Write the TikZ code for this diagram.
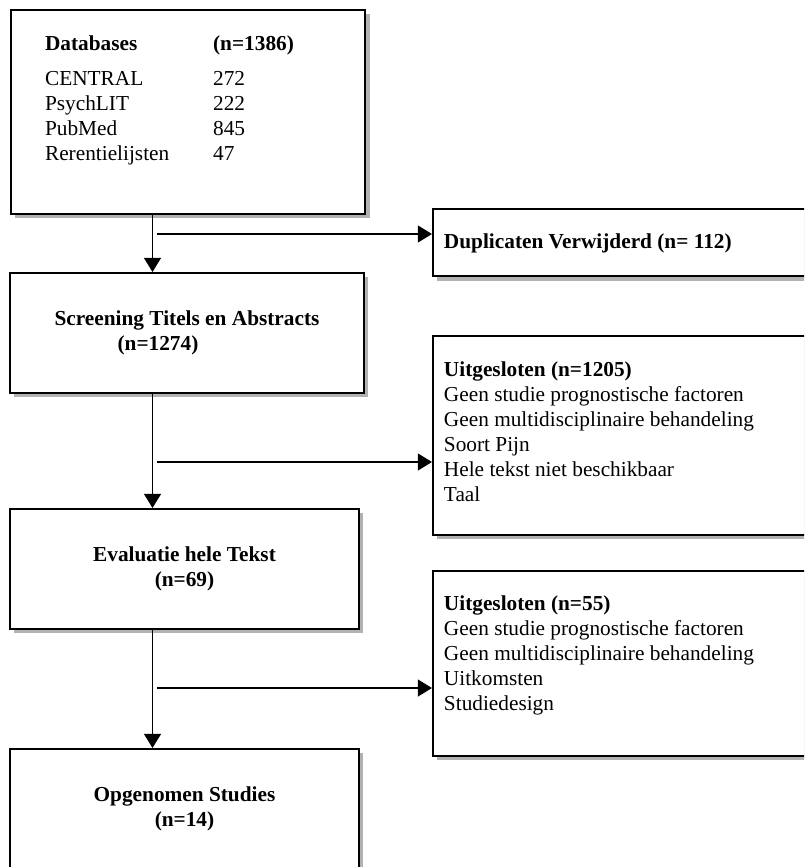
\documentclass[tikz,border=0pt]{standalone}
\usepackage{fontspec}
\setmainfont{Liberation Serif}
\usetikzlibrary{arrows.meta,positioning,calc,shadows}

\begin{document}
\begin{tikzpicture}[x=0.5634pt,y=-0.5634pt,font=\fontsize{12}{14}\selectfont,
    stage/.style={draw=black,line width=1.1pt,fill=white,inner sep=0pt,
                  align=center,minimum height=67.6pt,
                  drop shadow={shadow xshift=2.5pt,shadow yshift=-2.5pt,
                               fill=black,opacity=0.3}},
    sidebox/.style={draw=black,line width=1.1pt,fill=white,inner ysep=0pt,
                    inner xsep=6.2pt,anchor=north west,
                    drop shadow={shadow xshift=2.5pt,shadow yshift=-2.5pt,
                                 fill=black,opacity=0.3}},
    flow/.style={line width=1.05pt,-{Triangle[length=8pt,width=9.5pt]}}]

  \useasboundingbox (0,0) rectangle (804,867);
  \clip (0,0) rectangle (804,867);

  % main column
  \node[sidebox,inner xsep=19.2pt,text height=23.1pt,text depth=91.8pt]
    (db) at (10,9) {%
    \begin{tabular}[t]{@{}p{94.7pt}@{}p{66.5pt}@{}}
      \textbf{Databases} & \textbf{(n=1386)}\\[5.6pt]
      CENTRAL & 272\\
      PsychLIT & 222\\
      PubMed & 845\\
      Rerentielijsten & 47
    \end{tabular}};
  \node[stage,minimum width=199.4pt] (scr) at (187,333)
    {\textbf{Screening Titels en Abstracts}\\
     \hspace*{-32.7pt}\textbf{(n=1274)}};
  \node[stage,minimum width=196.6pt] (eval) at (184.5,569)
    {\textbf{Evaluatie hele Tekst}\\ \textbf{(n=69)}};
  \node[stage,minimum width=196.6pt] (incl) at (184.5,809)
    {\textbf{Opgenomen Studies}\\ \textbf{(n=14)}};

  % side boxes
  \node[sidebox,text height=22pt,text depth=15.8pt] (dup) at (432,208)
    {\begin{tabular}[t]{@{}p{225pt}@{}}
      \textbf{Duplicaten Verwijderd (n= 112)}
    \end{tabular}};
  \node[sidebox,text height=23.1pt,text depth=89pt] (excl1) at (432,335)
    {\begin{tabular}[t]{@{}p{225pt}@{}}
      \textbf{Uitgesloten (n=1205)}\\
      Geen studie prognostische factoren\\
      Geen multidisciplinaire behandeling\\
      Soort Pijn\\
      Hele tekst niet beschikbaar\\
      Taal
    \end{tabular}};
  \node[sidebox,text height=22.5pt,text depth=81.7pt] (excl2) at (432,570)
    {\begin{tabular}[t]{@{}p{225pt}@{}}
      \textbf{Uitgesloten (n=55)}\\
      Geen studie prognostische factoren\\
      Geen multidisciplinaire behandeling\\
      Uitkomsten\\
      Studiedesign
    \end{tabular}};

  % connectors
  \coordinate (trunk) at (152.5,0);
  \coordinate (b1) at (157,234);
  \coordinate (b2) at (157,462);
  \coordinate (b3) at (157,688);

  \draw[flow] (db.south -| trunk) -- (scr.north -| trunk);
  \draw[flow] (scr.south -| trunk) -- (eval.north -| trunk);
  \draw[flow] (eval.south -| trunk) -- (incl.north -| trunk);
  \draw[flow] (b1) -- (b1 -| dup.west);
  \draw[flow] (b2) -- (b2 -| excl1.west);
  \draw[flow] (b3) -- (b3 -| excl2.west);
\end{tikzpicture}
\end{document}
